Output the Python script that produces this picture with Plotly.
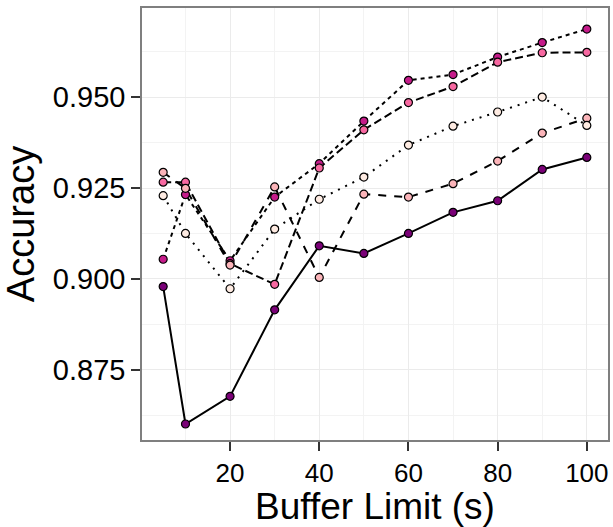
import plotly.graph_objects as go

buffer_limit = [5, 10, 20, 30, 40, 50, 60, 70, 80, 90, 100]

acc_s1 = [0.8979, 0.8601, 0.8677, 0.8915, 0.9091, 0.9070, 0.9125, 0.9183, 0.9215, 0.9301, 0.9334]
acc_s2 = [0.9054, 0.9232, 0.9050, 0.9225, 0.9317, 0.9434, 0.9546, 0.9562, 0.9610, 0.9650, 0.9687]
acc_s3 = [0.9266, 0.9266, 0.9042, 0.8985, 0.9305, 0.9410, 0.9485, 0.9529, 0.9596, 0.9622, 0.9623]
acc_s4 = [0.9293, 0.9249, 0.9038, 0.9253, 0.9004, 0.9233, 0.9225, 0.9262, 0.9324, 0.9401, 0.9442]
acc_s5 = [0.9229, 0.9125, 0.8973, 0.9137, 0.9219, 0.9280, 0.9368, 0.9420, 0.9459, 0.9500, 0.9422]

series_values = [acc_s1, acc_s2, acc_s3, acc_s4, acc_s5]
series_colors = ["#7A0177", "#C51B8A", "#F768A1", "#FBB4B9", "#FEEBE2"]
series_dash = ["solid", "4px,4px", "8px,4px", "8px,8px", "2px,6px"]

x_ticks = [20, 40, 60, 80, 100]
y_ticks = [0.875, 0.900, 0.925, 0.950]
y_tick_labels = ["0.875", "0.900", "0.925", "0.950"]

fig = go.Figure()

for vals, dash in zip(series_values, series_dash):
    fig.add_trace(go.Scatter(
        x=buffer_limit, y=vals, mode="lines",
        line=dict(color="black", width=2, dash=dash),
        showlegend=False, hoverinfo="skip"))

for vals, col in zip(series_values, series_colors):
    fig.add_trace(go.Scatter(
        x=buffer_limit, y=vals, mode="markers",
        marker=dict(color=col, size=8, line=dict(color="black", width=1.2)),
        showlegend=False))

font_family = "Liberation Sans, Arial, sans-serif"

fig.update_layout(
    width=613, height=527,
    margin=dict(l=142, r=5, t=8, b=87),
    paper_bgcolor="white", plot_bgcolor="white",
    font=dict(family=font_family, color="black"),
    showlegend=False,
)

fig.update_xaxes(
    range=[0.25, 104.75], automargin=False,
    tickmode="array", tickvals=x_ticks, ticktext=[str(v) for v in x_ticks],
    tickfont=dict(size=26, color="black"),
    ticks="outside", ticklen=9, tickwidth=1.5, tickcolor="#333333",
    showgrid=True, gridcolor="#EBEBEB", gridwidth=1.2,
    minor=dict(tickmode="array", tickvals=[10, 30, 50, 70, 90], showgrid=True,
               gridcolor="#F3F3F3", gridwidth=0.8, ticks=""),
    showline=True, linecolor="#7F7F7F", linewidth=1.5, mirror=True,
    zeroline=False,
    title=dict(text="Buffer Limit (s)", font=dict(size=37, color="black"), standoff=0),
)

fig.update_yaxes(
    range=[0.8557, 0.9745], automargin=False,
    tickmode="array", tickvals=y_ticks, ticktext=y_tick_labels,
    tickfont=dict(size=29, color="black"),
    ticks="outside", ticklen=9, tickwidth=1.5, tickcolor="#333333",
    showgrid=True, gridcolor="#EBEBEB", gridwidth=1.2,
    minor=dict(tickmode="array", tickvals=[0.8625, 0.8875, 0.9125, 0.9375, 0.9625],
               showgrid=True, gridcolor="#F3F3F3", gridwidth=0.8, ticks=""),
    showline=True, linecolor="#7F7F7F", linewidth=1.5, mirror=True,
    zeroline=False,
    title=dict(text="Accuracy", font=dict(size=38, color="black"), standoff=7),
)

fig.write_html(
    "out.html",
    config={"displayModeBar": False},
    post_script="document.body.style.margin='0';document.body.style.overflow='hidden';",
)
